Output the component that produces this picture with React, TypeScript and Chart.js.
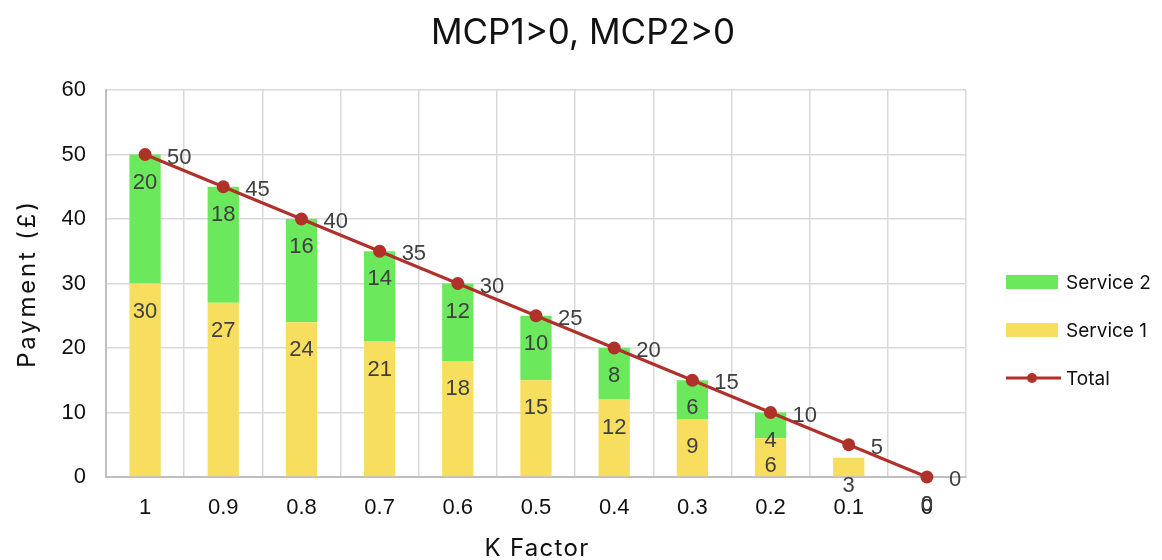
import { useEffect, useRef } from "react";
import { Chart, registerables } from "chart.js";

Chart.register(...registerables);

// K factor categories along the x axis
const kFactors = ["1", "0.9", "0.8", "0.7", "0.6", "0.5", "0.4", "0.3", "0.2", "0.1", "0"];
// Payment components (£)
const service1 = [30, 27, 24, 21, 18, 15, 12, 9, 6, 3, 0];
const service2 = [20, 18, 16, 14, 12, 10, 8, 6, 4, null, 0];
const totals = [50, 45, 40, 35, 30, 25, 20, 15, 10, 5, 0];

const Y_MIN = 0;
const Y_MAX = 60;
const Y_STEP = 10;

const TITLE = "MCP1>0, MCP2>0";
const X_TITLE = "K Factor";
const Y_TITLE = "Payment (£)";

const COLOR_S1 = "#F8DE5E";
const COLOR_S2 = "#6CE85C";
const COLOR_TOTAL = "#B0302A";
const LABEL_COLOR = "#404040";
const GRID_COLOR = "#D9D9D9";
const AXIS_COLOR = "#BFBFBF";
const TEXT_COLOR = "#111111";

const SANS = "'Liberation Sans', Arial, sans-serif";
const HEAD = "Inter, 'Noto Sans', sans-serif";

const legendItems = [
  { label: "Service 2", kind: "box", color: COLOR_S2 },
  { label: "Service 1", kind: "box", color: COLOR_S1 },
  { label: "Total", kind: "line", color: COLOR_TOTAL },
];

function spaced(ctx: CanvasRenderingContext2D, px: number) {
  (ctx as any).letterSpacing = `${px}px`;
}

// Titles, value labels and the legend are painted here
const decorations = {
  id: "decorations",
  afterDatasetsDraw(chart: any) {
    const ctx = chart.ctx as CanvasRenderingContext2D;
    ctx.save();
    ctx.font = `22px ${SANS}`;
    ctx.fillStyle = LABEL_COLOR;
    ctx.textAlign = "center";
    ctx.textBaseline = "middle";
    // bar labels sit just inside the top of each segment
    [0, 1].forEach((di) => {
      const meta = chart.getDatasetMeta(di);
      const data = chart.data.datasets[di].data as (number | null)[];
      meta.data.forEach((el: any, i: number) => {
        const v = data[i];
        if (v === null || v === undefined) return;
        ctx.fillText(String(v), el.x, el.y + 28);
      });
    });
    // total labels to the right of each point
    const lineMeta = chart.getDatasetMeta(2);
    ctx.textAlign = "left";
    lineMeta.data.forEach((el: any, i: number) => {
      ctx.fillText(String(totals[i]), el.x + 22, el.y + 3);
    });
    ctx.restore();
  },
  afterDraw(chart: any) {
    const ctx = chart.ctx as CanvasRenderingContext2D;
    const area = chart.chartArea;
    ctx.save();
    ctx.fillStyle = TEXT_COLOR;
    ctx.textAlign = "center";
    ctx.textBaseline = "middle";

    // chart title
    ctx.font = `35px ${HEAD}`;
    spaced(ctx, 0);
    ctx.fillText(TITLE, chart.width / 2 + 2, 33);

    // x axis title
    ctx.font = `24px ${HEAD}`;
    spaced(ctx, 1.3);
    ctx.fillText(X_TITLE, (area.left + area.right) / 2 + 1, 549);

    // y axis title
    ctx.save();
    ctx.translate(28, (area.top + area.bottom) / 2);
    ctx.rotate(-Math.PI / 2);
    ctx.font = `24px ${HEAD}`;
    spaced(ctx, 2.8);
    ctx.fillText(Y_TITLE, 0, 0);
    ctx.restore();

    // legend
    const lx = 1006;
    let ly = 282;
    ctx.font = `19px ${HEAD}`;
    spaced(ctx, 0);
    ctx.textAlign = "left";
    legendItems.forEach((it) => {
      if (it.kind === "box") {
        ctx.fillStyle = it.color;
        ctx.fillRect(lx, ly - 7, 52, 14);
      } else {
        ctx.strokeStyle = it.color;
        ctx.lineWidth = 3;
        ctx.beginPath();
        ctx.moveTo(lx, ly);
        ctx.lineTo(lx + 55, ly);
        ctx.stroke();
        ctx.fillStyle = it.color;
        ctx.beginPath();
        ctx.arc(lx + 26, ly, 5, 0, Math.PI * 2);
        ctx.fill();
      }
      ctx.fillStyle = TEXT_COLOR;
      ctx.fillText(it.label, 1066, ly + 1);
      ly += 48;
    });
    ctx.restore();
  },
};

export default function App() {
  const canvasRef = useRef<HTMLCanvasElement | null>(null);

  useEffect(() => {
    document.body.style.margin = "0";
    const canvas = canvasRef.current;
    if (!canvas) return;
    const chart = new Chart(canvas, {
      type: "bar",
      data: {
        labels: kFactors,
        datasets: [
          {
            label: "Service 1",
            data: service1,
            backgroundColor: COLOR_S1,
            stack: "pay",
            order: 1,
            barPercentage: 0.4,
            categoryPercentage: 1,
          },
          {
            label: "Service 2",
            data: service2,
            backgroundColor: COLOR_S2,
            stack: "pay",
            order: 1,
            barPercentage: 0.4,
            categoryPercentage: 1,
          },
          {
            type: "line",
            label: "Total",
            data: totals,
            borderColor: COLOR_TOTAL,
            backgroundColor: COLOR_TOTAL,
            borderWidth: 3,
            pointRadius: 6.5,
            pointBackgroundColor: COLOR_TOTAL,
            pointBorderWidth: 0,
            stack: "total",
            order: 0,
            clip: false,
          } as any,
        ],
      },
      options: {
        responsive: false,
        animation: false,
        layout: { padding: { top: 90, right: 196, left: 0, bottom: 0 } },
        plugins: {
          legend: { display: false },
          title: { display: false },
          tooltip: { enabled: false },
        },
        scales: {
          x: {
            stacked: true,
            offset: true,
            grid: {
              color: GRID_COLOR,
              lineWidth: 1.5,
              offset: true,
              drawTicks: false,
            },
            border: { color: AXIS_COLOR, width: 2 },
            ticks: {
              color: TEXT_COLOR,
              font: { family: SANS, size: 22 },
              padding: 18,
              maxRotation: 0,
            },
            afterFit(scale: any) {
              scale.height = 83;
            },
          },
          y: {
            stacked: true,
            min: Y_MIN,
            max: Y_MAX,
            grid: { color: GRID_COLOR, lineWidth: 1.5, drawTicks: false },
            border: { color: AXIS_COLOR, width: 2 },
            ticks: {
              stepSize: Y_STEP,
              color: TEXT_COLOR,
              font: { family: SANS, size: 22 },
              padding: 20,
            },
            afterFit(scale: any) {
              scale.width = 106;
            },
          },
        },
      },
      plugins: [decorations],
    });
    return () => chart.destroy();
  }, []);

  return (
    <div style={{ width: 1162, height: 560 }}>
      <canvas ref={canvasRef} width={1162} height={560} />
    </div>
  );
}
